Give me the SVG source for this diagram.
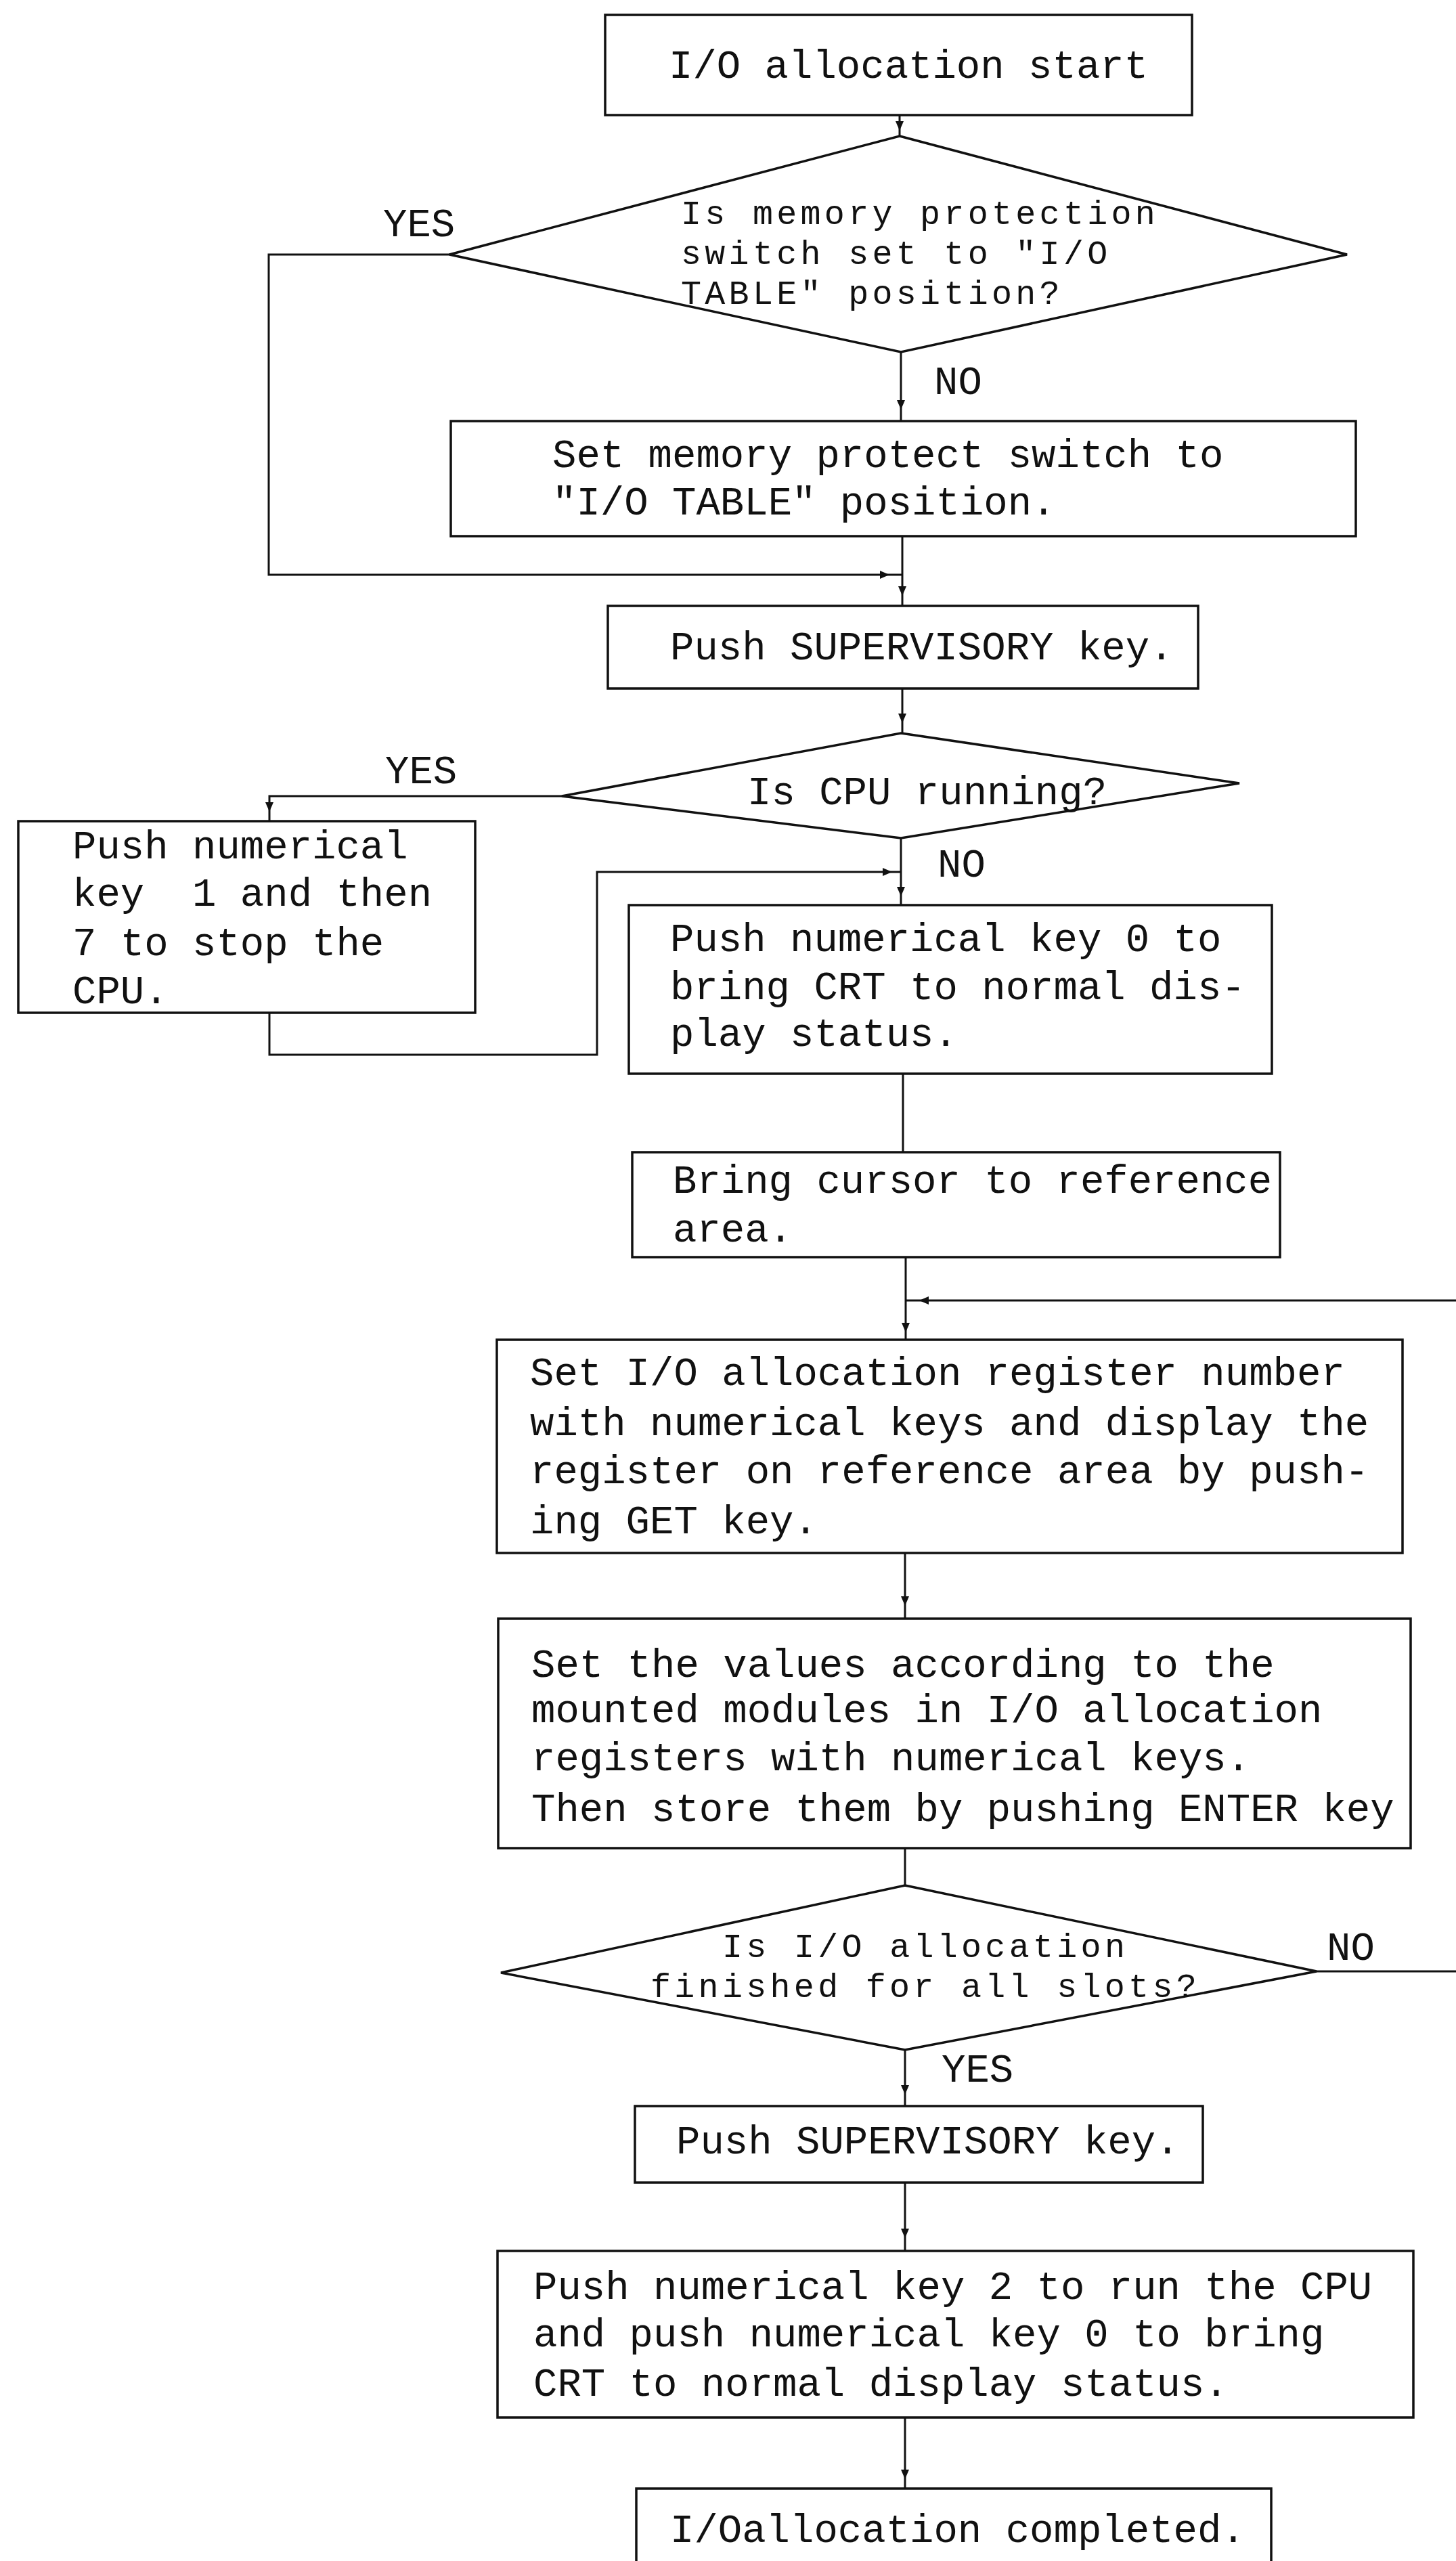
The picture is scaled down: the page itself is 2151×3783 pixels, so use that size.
<svg xmlns="http://www.w3.org/2000/svg" xmlns:xlink="http://www.w3.org/1999/xlink" width="2151" height="3783" viewBox="0 0 2151 3783">
<style>
.box{fill:none;stroke:#111;stroke-width:3.5}
.ln{fill:none;stroke:#111;stroke-width:3}
.t{font-family:"Liberation Mono","DejaVu Sans Mono",monospace;font-size:59px;fill:#111}
.td{font-family:"Liberation Mono","DejaVu Sans Mono",monospace;font-size:50px;letter-spacing:5.3px;fill:#111}
</style>
<defs>
<path id="ah" d="M-6,-14 L6,-14 L0,0 Z" fill="#111"/>
</defs>
<rect width="2151" height="3783" fill="#fff"/>
<g id="connectors">
<path class="ln" d="M1329,170 V201"/>
<path class="ln" d="M1331,520 V622"/>
<path class="ln" d="M664,376 H397 V849 H1333"/>
<path class="ln" d="M1333,792 V895"/>
<path class="ln" d="M1333,1017 V1083"/>
<path class="ln" d="M830,1176 H398 V1213"/>
<path class="ln" d="M398,1496 V1558 H882 V1288 H1331"/>
<path class="ln" d="M1331,1238 V1337"/>
<path class="ln" d="M1334,1586 V1702"/>
<path class="ln" d="M1338,1857 V1979"/>
<path class="ln" d="M1945,2912 H2153 V1921 H1338"/>
<path class="ln" d="M1337,2294 V2391"/>
<path class="ln" d="M1337,2730 V2785"/>
<path class="ln" d="M1337,3028 V3111"/>
<path class="ln" d="M1337,3224 V3325"/>
<path class="ln" d="M1337,3571 V3676"/>
<use xlink:href="#ah" transform="translate(1329,193)"/>
<use xlink:href="#ah" transform="translate(1331,605)"/>
<use xlink:href="#ah" transform="translate(1314,849) rotate(-90)"/>
<use xlink:href="#ah" transform="translate(1333,880)"/>
<use xlink:href="#ah" transform="translate(1333,1068)"/>
<use xlink:href="#ah" transform="translate(398,1199)"/>
<use xlink:href="#ah" transform="translate(1318,1288) rotate(-90)"/>
<use xlink:href="#ah" transform="translate(1331,1324)"/>
<use xlink:href="#ah" transform="translate(1358,1921) rotate(90)"/>
<use xlink:href="#ah" transform="translate(1338,1968)"/>
<use xlink:href="#ah" transform="translate(1337,2372)"/>
<use xlink:href="#ah" transform="translate(1337,3094)"/>
<use xlink:href="#ah" transform="translate(1337,3306)"/>
<use xlink:href="#ah" transform="translate(1337,3662)"/>
</g>
<g id="start">
<rect class="box" x="894" y="22" width="867" height="148"/>
<text class="t" x="988" y="115">I/O allocation start</text>
</g>
<g id="dec-protect">
<polygon class="box" points="1329,201 1990,376 1331,520 664,376"/>
<text class="td" x="1006" y="331">Is memory protection</text>
<text class="td" x="1006" y="390">switch set to "I/O</text>
<text class="td" x="1006" y="449">TABLE" position?</text>
</g>
<g id="lbl-yes1"><text class="t" x="566" y="349">YES</text></g>
<g id="lbl-no1"><text class="t" x="1380" y="582">NO</text></g>
<g id="set-switch">
<rect class="box" x="666" y="622" width="1337" height="170"/>
<text class="t" x="816" y="690">Set memory protect switch to</text>
<text class="t" x="816" y="760">"I/O TABLE" position.</text>
</g>
<g id="push-sup1">
<rect class="box" x="898" y="895" width="872" height="122"/>
<text class="t" x="990" y="974">Push SUPERVISORY key.</text>
</g>
<g id="dec-cpu">
<polygon class="box" points="1331,1083 1831,1157 1331,1238 830,1176"/>
<text class="t" x="1104" y="1188">Is CPU running?</text>
</g>
<g id="lbl-yes2"><text class="t" x="569" y="1157">YES</text></g>
<g id="lbl-no2"><text class="t" x="1385" y="1295">NO</text></g>
<g id="stop-cpu">
<rect class="box" x="27" y="1213" width="675" height="283"/>
<text class="t" x="107" y="1268">Push numerical</text>
<text class="t" x="107" y="1338" xml:space="preserve">key  1 and then</text>
<text class="t" x="107" y="1411">7 to stop the</text>
<text class="t" x="107" y="1482">CPU.</text>
</g>
<g id="key0">
<rect class="box" x="929" y="1337" width="950" height="249"/>
<text class="t" x="990" y="1405">Push numerical key 0 to</text>
<text class="t" x="990" y="1476">bring CRT to normal dis-</text>
<text class="t" x="990" y="1545">play status.</text>
</g>
<g id="cursor">
<rect class="box" x="934" y="1702" width="957" height="155"/>
<text class="t" x="994" y="1762">Bring cursor to reference</text>
<text class="t" x="994" y="1834">area.</text>
</g>
<g id="set-register">
<rect class="box" x="734" y="1979" width="1338" height="315"/>
<text class="t" x="783" y="2046">Set I/O allocation register number</text>
<text class="t" x="783" y="2120">with numerical keys and display the</text>
<text class="t" x="783" y="2191">register on reference area by push-</text>
<text class="t" x="783" y="2265">ing GET key.</text>
</g>
<g id="set-values">
<rect class="box" x="736" y="2391" width="1348" height="339"/>
<text class="t" x="785" y="2477">Set the values according to the</text>
<text class="t" x="785" y="2544">mounted modules in I/O allocation</text>
<text class="t" x="785" y="2615">registers with numerical keys.</text>
<text class="t" x="785" y="2690">Then store them by pushing ENTER key</text>
</g>
<g id="dec-finished">
<polygon class="box" points="1337,2785 1945,2912 1337,3028 740,2914"/>
<text class="td" x="1067" y="2891">Is I/O allocation</text>
<text class="td" x="961" y="2950">finished for all slots?</text>
</g>
<g id="lbl-no3"><text class="t" x="1960" y="2895">NO</text></g>
<g id="lbl-yes3"><text class="t" x="1391" y="3075">YES</text></g>
<g id="push-sup2">
<rect class="box" x="938" y="3111" width="839" height="113"/>
<text class="t" x="999" y="3181">Push SUPERVISORY key.</text>
</g>
<g id="run-cpu">
<rect class="box" x="735" y="3325" width="1353" height="246"/>
<text class="t" x="788" y="3396">Push numerical key 2 to run the CPU</text>
<text class="t" x="788" y="3466">and push numerical key 0 to bring</text>
<text class="t" x="788" y="3539">CRT to normal display status.</text>
</g>
<g id="end">
<rect class="box" x="940" y="3676" width="938" height="130"/>
<text class="t" x="990" y="3755">I/Oallocation completed.</text>
</g>
</svg>
